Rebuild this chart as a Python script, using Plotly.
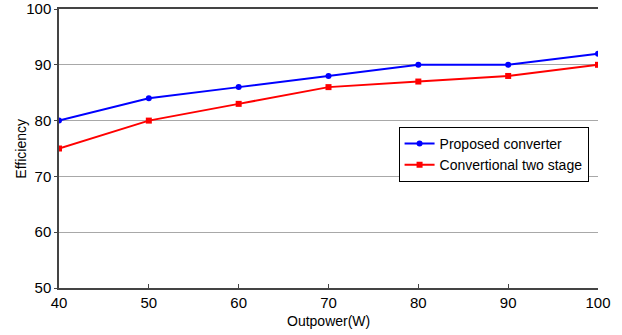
import plotly.graph_objects as go

power_w = [40, 50, 60, 70, 80, 90, 100]
proposed_eff = [80, 84, 86, 88, 90, 90, 92]
conventional_eff = [75, 80, 83, 86, 87, 88, 90]
y_ticks = [50, 60, 70, 80, 90, 100]
x_ticks = [40, 50, 60, 70, 80, 90, 100]

font = "Liberation Sans, Arial, sans-serif"

fig = go.Figure()
fig.add_trace(go.Scatter(
    x=power_w, y=proposed_eff, name="Proposed converter",
    mode="lines+markers",
    line=dict(color="#0000FF", width=2),
    marker=dict(symbol="circle", size=6, color="#0000FF"),
))
fig.add_trace(go.Scatter(
    x=power_w, y=conventional_eff, name="Convertional two stage",
    mode="lines+markers",
    line=dict(color="#FF0000", width=2),
    marker=dict(symbol="square", size=6, color="#FF0000"),
))

fig.update_layout(
    width=622, height=335,
    margin=dict(l=59, r=24, t=9, b=47, autoexpand=False),
    paper_bgcolor="white", plot_bgcolor="white",
    font=dict(family=font, color="black", size=15),
    showlegend=True,
    legend=dict(
        x=0.63, y=0.577, xanchor="left", yanchor="top",
        bgcolor="white", bordercolor="black", borderwidth=1,
        font=dict(size=14, family=font),
        tracegroupgap=0, itemwidth=30,
    ),
    xaxis=dict(
        range=[40, 100], tickvals=x_ticks,
        showgrid=False, zeroline=False,
        showline=True, mirror=True, linecolor="#444444", linewidth=1.5,
        ticks="inside", ticklen=4, tickcolor="#444444",
        tickfont=dict(size=15), automargin=False,
    ),
    yaxis=dict(
        range=[50, 100], tickvals=y_ticks,
        showgrid=True, gridcolor="#a8a8a8", gridwidth=1,
        zeroline=False,
        showline=True, linecolor="#444444", linewidth=1.5,
        ticks="outside", ticklen=3, tickcolor="#444444",
        tickfont=dict(size=15), automargin=False,
    ),
    annotations=[
        dict(text="Outpower(W)", xref="paper", yref="paper",
             x=0.5, y=-0.12, xanchor="center", yanchor="middle",
             showarrow=False, font=dict(size=14)),
        dict(text="Efficiency", xref="paper", yref="paper",
             x=-0.072, y=0.5, xanchor="center", yanchor="middle",
             textangle=-90, showarrow=False, font=dict(size=14)),
    ],
)

fig.write_html("out.html")
